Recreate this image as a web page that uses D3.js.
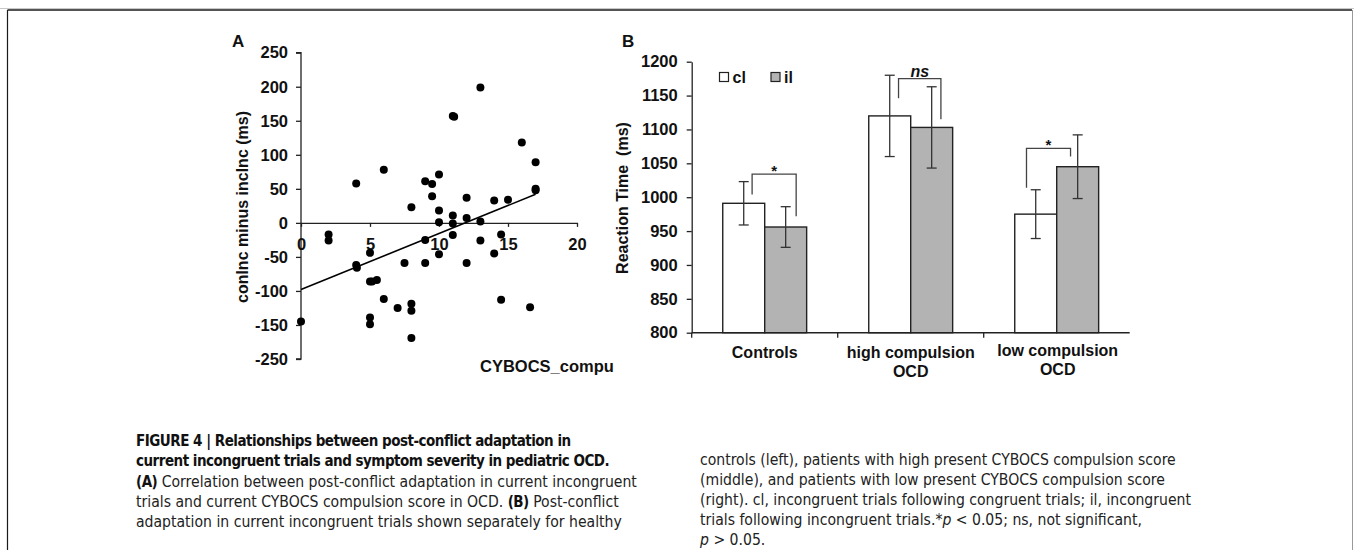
<!DOCTYPE html>
<html><head><meta charset="utf-8">
<script src="https://cdn.jsdelivr.net/npm/d3@7"></script>
<style>
html,body{margin:0;padding:0;background:#fff;}
svg{display:block;}
</style></head>
<body>
<svg id="chart" width="1354" height="550"></svg>
<script>
// ---------- Panel A data ----------
const scoreX = [0,2,2,4,4,4.05,5,5,5.15,5.5,5,5,6,6,7,7.5,8,8,8,8,9,9.5,9,9,9.5,10,10,10,10,11,11,11,11,11.1,12,12,12,13,13,13,14,14,15,14.5,14.5,16,17,17,17,16.6];
const diffY  = [-145,-17,-26,58,-62,-66,-44,-86,-86,-84,-139,-149,78,-112,-125,-59,23,-119,-129,-169,61,57,-25,-59,39,71,18,1,-46,11,-1,-18,157,156,37,7,-59,199,2,-26,33,-45,34,-17,-113,118,89,48,50,-124];
const trendX = [0,17];
const trendY = [-98,42];
const aTickValues = [250,200,150,100,50,0,-50,-100,-150,-200];
const aTickLabels = ["250","200","150","100","50","0","-50","-100","-150","-250"];
const aXTicks = [0,5,10,15,20];

// ---------- Panel B data ----------
const groups = ["Controls","high compulsion OCD","low compulsion OCD"];
const groupLines = [["Controls"],["high compulsion","OCD"],["low compulsion","OCD"]];
const seriesNames = ["cl","il"];
const clMeans = [991,1120,975];
const clErr   = [32,60,36];
const ilMeans = [956,1103,1045];
const ilErr   = [30,60,47];
const sigLabels = ["*","ns","*"];
const bracketTop   = [1034,1175,1072];
const bracketLeft  = [1004,1146,1014];
const bracketRight = [972,1115,1060];
const bTicks = [800,850,900,950,1000,1050,1100,1150,1200];

const svg = d3.select("#chart");
const ink = "#111";
const boldFont = "'Liberation Sans', Arial, sans-serif";

// frame
svg.append("line").attr("x1",0).attr("x2",1354).attr("y1",8.5).attr("y2",8.5).attr("stroke","#c8c8c8").attr("stroke-width",1);
svg.append("line").attr("x1",7.5).attr("x2",1352).attr("y1",10).attr("y2",10).attr("stroke","#1a1a1a").attr("stroke-width",1.5);
svg.append("line").attr("x1",7.5).attr("x2",7.5).attr("y1",10).attr("y2",550).attr("stroke","#1a1a1a").attr("stroke-width",1.2);
svg.append("line").attr("x1",1352.5).attr("x2",1352.5).attr("y1",10).attr("y2",550).attr("stroke","#999").attr("stroke-width",1);

// ================= Panel A =================
const xA = d3.scaleLinear().domain([0,20]).range([301,577]);
const yA = d3.scaleLinear().domain([-200,250]).range([359,52.7]);
const gA = svg.append("g").attr("font-family",boldFont).attr("font-weight","bold").attr("fill",ink);

gA.append("text").attr("x",232).attr("y",47).attr("font-size",17).text("A");

const yAxisA = d3.axisLeft(yA).tickValues(aTickValues).tickSize(5).tickPadding(8)
  .tickFormat((d,i)=>aTickLabels[i]);
const gyA = gA.append("g").attr("transform",`translate(${xA(0)},0)`).call(yAxisA);
gyA.select(".domain").attr("d",`M-5,${yA(250)}H0V${yA(-200)}H-5`).attr("stroke","#222").attr("stroke-width",1.3);
gyA.selectAll(".tick line").attr("stroke","#222").attr("stroke-width",1.3);
gyA.selectAll(".tick text").attr("font-size",16.5).attr("font-weight","bold").attr("fill",ink).attr("font-family",boldFont);

const xAxisA = d3.axisBottom(xA).tickValues(aXTicks).tickSize(4).tickPadding(11).tickSizeOuter(0);
const gxA = gA.append("g").attr("transform",`translate(0,${yA(0)})`).call(xAxisA);
gxA.select(".domain").attr("stroke","#222").attr("stroke-width",1.3);
gxA.selectAll(".tick line").attr("stroke","#222").attr("stroke-width",1.3);
gxA.selectAll(".tick text").attr("font-size",16.5).attr("font-weight","bold").attr("fill",ink).attr("font-family",boldFont);

gA.append("line").attr("x1",xA(trendX[0])).attr("y1",yA(trendY[0])).attr("x2",xA(trendX[1])).attr("y2",yA(trendY[1]))
  .attr("stroke","#000").attr("stroke-width",1.6);

gA.append("g").selectAll("circle").data(scoreX.map((x,i)=>[x,diffY[i]])).join("circle")
  .attr("cx",d=>xA(d[0])).attr("cy",d=>yA(d[1])).attr("r",4).attr("fill","#000");

gA.append("text").attr("transform",`translate(248,207) rotate(-90)`).attr("text-anchor","middle")
  .attr("font-size",16).text("conInc minus incInc (ms)");
gA.append("text").attr("x",480).attr("y",372).attr("font-size",16.5).text("CYBOCS_compu");

// ================= Panel B =================
const x0 = d3.scaleBand().domain(groups).range([691.7,1129.7]).paddingInner(0).paddingOuter(0);
const x1 = d3.scaleBand().domain(seriesNames).range([0,x0.bandwidth()]).paddingInner(0).paddingOuter(0.74);
const yB = d3.scaleLinear().domain([800,1200]).range([332.7,61.7]);
const gB = svg.append("g").attr("font-family",boldFont).attr("font-weight","bold").attr("fill",ink);

gB.append("text").attr("x",622).attr("y",47).attr("font-size",17).text("B");

const yAxisB = d3.axisLeft(yB).tickValues(bTicks).tickSize(5).tickPadding(9).tickSizeOuter(0).tickFormat(d3.format("d"));
const gyB = gB.append("g").attr("transform",`translate(${x0.range()[0]},0)`).call(yAxisB);
gyB.select(".domain").attr("stroke","#222").attr("stroke-width",1.3);
gyB.selectAll(".tick line").attr("stroke","#222").attr("stroke-width",1.3);
gyB.selectAll(".tick text").attr("font-size",16.5).attr("font-weight","bold").attr("fill",ink).attr("font-family",boldFont);

gB.append("text").attr("transform",`translate(628,198) rotate(-90)`).attr("text-anchor","middle")
  .attr("font-size",16).attr("xml:space","preserve").style("white-space","pre").text("Reaction Time  (ms)");

const barData = [];
groups.forEach((g,i)=>{
  barData.push({g, s:"cl", v:clMeans[i], e:clErr[i]});
  barData.push({g, s:"il", v:ilMeans[i], e:ilErr[i]});
});
const fills = {cl:"#ffffff", il:"#b3b3b3"};
gB.append("g").selectAll("rect").data(barData).join("rect")
  .attr("x",d=>x0(d.g)+x1(d.s)).attr("width",x1.bandwidth())
  .attr("y",d=>yB(d.v)).attr("height",d=>yB(800)-yB(d.v))
  .attr("fill",d=>fills[d.s]).attr("stroke","#222").attr("stroke-width",1.4);

const gxB = gB.append("g").attr("transform",`translate(0,${yB(800)})`);
gxB.append("line").attr("x1",x0.range()[0]).attr("x2",x0.range()[1]).attr("stroke","#222").attr("stroke-width",1.4);
groups.forEach(g=>{
  gxB.append("line").attr("x1",x0(g)).attr("x2",x0(g)).attr("y1",0).attr("y2",5).attr("stroke","#222").attr("stroke-width",1.3);
});
groups.forEach((g,i)=>{
  const t = gB.append("text").attr("text-anchor","middle").attr("font-size",16);
  groupLines[i].forEach((ln,j)=>{
    t.append("tspan").attr("x",x0(g)+x0.bandwidth()/2 + (i===2?1:0)).attr("y",(i===2?356:358) + j*19).text(ln);
  });
});

const eb = gB.append("g").attr("stroke","#333").attr("stroke-width",1.3);
barData.forEach(d=>{
  const cx = x0(d.g)+x1(d.s)+x1.bandwidth()/2;
  eb.append("line").attr("x1",cx).attr("x2",cx).attr("y1",yB(d.v+d.e)).attr("y2",yB(d.v-d.e));
  eb.append("line").attr("x1",cx-5).attr("x2",cx+5).attr("y1",yB(d.v+d.e)).attr("y2",yB(d.v+d.e));
  eb.append("line").attr("x1",cx-5).attr("x2",cx+5).attr("y1",yB(d.v-d.e)).attr("y2",yB(d.v-d.e));
});

// significance brackets (x anchor as fraction across each bar)
const leftFrac = [0.7,0.71,0.28], rightFrac = [0.75,0.72,0.33];
const br = gB.append("g");
groups.forEach((g,i)=>{
  const xl = x0(g)+x1("cl")+x1.bandwidth()*leftFrac[i];
  const xr = x0(g)+x1("il")+x1.bandwidth()*rightFrac[i];
  const yt = yB(bracketTop[i]);
  br.append("path").attr("d",`M${xl},${yB(bracketLeft[i])}V${yt}H${xr}V${yB(bracketRight[i])}`)
    .attr("fill","none").attr("stroke","#444").attr("stroke-width",1.3);
  br.append("text").attr("x",(xl+xr)/2).attr("y",i===1? yt-2 : yt+2).attr("text-anchor","middle")
    .attr("font-size",i===1?16:15).attr("font-style",i===1?"italic":"normal").text(sigLabels[i]);
});

const lg = gB.append("g");
seriesNames.forEach((s,i)=>{
  const lx = 719.5 + i*51.5;
  lg.append("rect").attr("x",lx).attr("y",72.5).attr("width",9).attr("height",9)
    .attr("fill",fills[s]).attr("stroke","#222").attr("stroke-width",1.2);
  lg.append("text").attr("x",lx+13).attr("y",82.5).attr("font-size",16).text(s);
});

// ================= Caption =================
const capFont = "'DejaVu Sans Condensed', 'Liberation Sans Narrow', Arial, sans-serif";
const cap = svg.append("g").attr("font-family",capFont).attr("font-size",15.6).attr("fill","#222");
const leftLines = [
  [["b","FIGURE 4 | Relationships between post-conflict adaptation in"]],
  [["b","current incongruent trials and symptom severity in pediatric OCD."]],
  [["b","(A)"],["n"," Correlation between post-conflict adaptation in current incongruent"]],
  [["n","trials and current CYBOCS compulsion score in OCD. "],["b","(B)"],["n"," Post-conflict"]],
  [["n","adaptation in current incongruent trials shown separately for healthy"]]
];
const rightLines = [
  [["n","controls (left), patients with high present CYBOCS compulsion score"]],
  [["n","(middle), and patients with low present CYBOCS compulsion score"]],
  [["n","(right). cl, incongruent trials following congruent trials; il, incongruent"]],
  [["n","trials following incongruent trials.*"],["i","p"],["n"," < 0.05; ns, not significant,"]],
  [["i","p"],["n"," > 0.05."]]
];
function writeLines(lines,x,y0,dy){
  lines.forEach((ln,i)=>{
    const t = cap.append("text").attr("x",x).attr("y",y0+i*dy).attr("xml:space","preserve");
    ln.forEach(([k,s])=>{
      const ts = t.append("tspan").text(s);
      if(k==="b"){ ts.attr("font-weight","bold").attr("fill","#111").attr("font-size",15).attr("letter-spacing",-0.5); }
      if(k==="i"){ ts.attr("font-style","italic"); }
    });
  });
}
writeLines(leftLines,136,446,20.3);
writeLines(rightLines,700,465,20);
</script>
</body></html>
